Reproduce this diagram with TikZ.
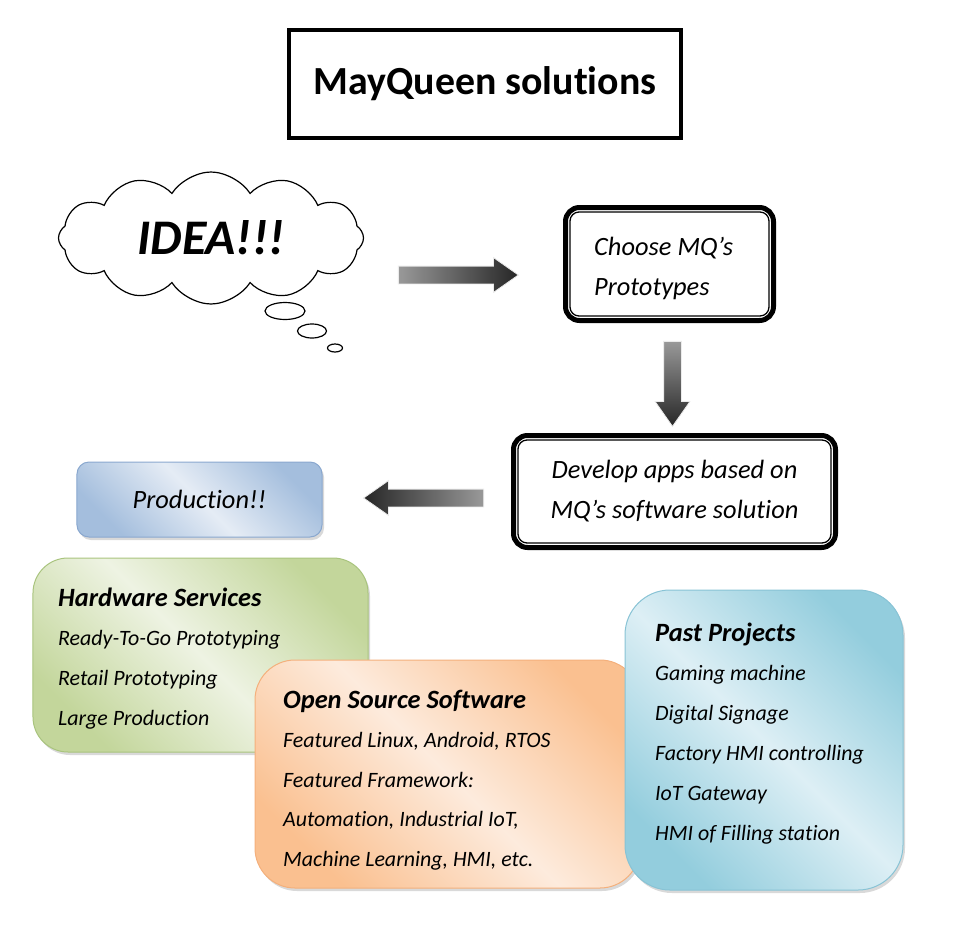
\documentclass[tikz,border=0pt]{standalone}
\usepackage{fontspec}
\setmainfont{Carlito}[Ligatures=NoCommon]
\usetikzlibrary{
  shapes.symbols,
  shapes.arrows,
  shapes.geometric,
  shadows
}
\definecolor{hwfill}{HTML}{C3D69B}
\definecolor{hwlight}{HTML}{EEF3E3}
\definecolor{hwline}{HTML}{A9C47E}
\definecolor{osfill}{HTML}{FAC090}
\definecolor{oslight}{HTML}{FDEBDD}
\definecolor{osline}{HTML}{F4B07C}
\definecolor{ppfill}{HTML}{93CDDD}
\definecolor{pplight}{HTML}{DDEFF5}
\definecolor{ppline}{HTML}{88C3D5}
\definecolor{prfill}{HTML}{A4BEDD}
\definecolor{prlight}{HTML}{E5ECF5}
\definecolor{prline}{HTML}{8AA8CF}

\begin{document}
\begin{tikzpicture}[
      x=1bp,y=-1bp,
      titlebox/.style={
         rectangle,
         draw=black,
         line width=3.5bp,
         minimum width=392bp,
         minimum height=108bp,
         font=\bfseries\fontsize{40}{44}\selectfont
      },
      thought/.style={
         cloud,
         cloud puffs=12,
         cloud puff arc=115,
         cloud ignores aspect,
         draw=black,
         line width=1.2bp,
         minimum width=305bp,
         minimum height=132bp,
         font=\bfseries\itshape\fontsize{50}{54}\selectfont
      },
      bubble/.style={
         ellipse,
         draw=black,
         line width=1.2bp,
         inner sep=0pt
      },
      stepframe/.style={
         rectangle,
         rounded corners=14bp,
         draw=black,
         line width=5bp,
         inner sep=0pt,
         font=\itshape\fontsize{26.5}{40}\selectfont
      },
      innerframe/.style={
         draw=black,
         line width=1.3bp,
         rounded corners=9bp
      },
      blockarrow/.style={
         single arrow,
         inner xsep=0pt,
         inner ysep=8.5bp,
         single arrow head extend=8.5bp,
         single arrow tip angle=70,
         minimum height=120bp,
         draw=black!8,
         line width=0.8bp
      },
      card/.style={
         rectangle,
         draw=#1line,
         line width=1bp,
         top color=#1fill,
         bottom color=#1fill,
         middle color=#1light,
         shading angle=-45,
         drop shadow={opacity=0.3,shadow xshift=2bp,shadow yshift=-3bp}
      },
      head/.style={
         anchor=base west,
         inner sep=0pt,
         font=\bfseries\itshape\fontsize{26.5}{30}\selectfont
      },
      item/.style={
         anchor=base west,
         inner sep=0pt,
         font=\itshape\fontsize{22}{26}\selectfont
      }
    ]
    \useasboundingbox (0,0) rectangle (966,927);

    \node (title) [titlebox] at (485,84) {MayQueen solutions};

    \node (idea) [thought] at (211,238) {IDEA!!!};
    \node (b1) [bubble, minimum width=40bp, minimum height=17bp] at (285,311) {};
    \node (b2) [bubble, minimum width=29bp, minimum height=14bp] at (312,331) {};
    \node (b3) [bubble, minimum width=15bp, minimum height=8bp] at (335,348) {};

    \node (choose) [stepframe, minimum width=208bp, minimum height=113bp]
       at (669.5,264) {};
    \draw[innerframe] ([shift={(7bp,-7bp)}]choose.north west)
       rectangle ([shift={(-7bp,7bp)}]choose.south east);
    \node (choose1) [item, font=\itshape\fontsize{26.5}{30}\selectfont]
       at (594,255) {Choose MQ's};
    \node (choose2) [item, font=\itshape\fontsize{26.5}{30}\selectfont]
       at (594,295) {Prototypes};

    \node (develop) [stepframe, minimum width=322bp, minimum height=112bp,
       align=center] at (674.5,491.5) {Develop apps based on\\MQ's software solution};
    \draw[innerframe] ([shift={(7bp,-7bp)}]develop.north west)
       rectangle ([shift={(-7bp,7bp)}]develop.south east);

    \node (a1) [blockarrow, left color=black!40, right color=black!85]
       at (452,275) {};
    \node (a2) [blockarrow, minimum height=85bp, rotate=-90,
       top color=black!40, bottom color=black!85] at (672.5,377.5) {};
    \node (a3) [blockarrow, rotate=180, left color=black!85,
       right color=black!40] at (430,498) {};

    \node (prod) [card=pr, rounded corners=12bp, minimum width=245bp,
       minimum height=75bp, font=\itshape\fontsize{26.5}{30}\selectfont]
       at (199.5,499.5) {Production!!};

    \node (hw) [card=hw, rounded corners=35bp, minimum width=335bp,
       minimum height=194bp] at (200.5,655) {};
    \node (hwh) [head] at (58,606) {Hardware Services};
    \foreach \txt [count=\i] in {Ready-To-Go Prototyping, Retail Prototyping,
       Large Production}
       \node (hw\i) [item] at (58,605+40*\i) {\txt};

    \node (os) [card=os, rounded corners=40bp, minimum width=385bp,
       minimum height=228bp] at (447.5,774) {};
    \node (osh) [head] at (283,708) {Open Source Software};
    \foreach \txt [count=\i] in {{Featured Linux, Android, RTOS},
       {Featured Framework:}, {Automation, Industrial IoT,},
       {Machine Learning, HMI, etc.}}
       \node (os\i) [item] at (283,708+39.5*\i) {\txt};

    \node (pp) [card=pp, rounded corners=45bp, minimum width=278bp,
       minimum height=300bp] at (764,740) {};
    \node (pph) [head] at (655,641) {Past Projects};
    \foreach \txt [count=\i] in {Gaming machine, Digital Signage,
       Factory HMI controlling, IoT Gateway, HMI of Filling station}
       \node (pp\i) [item] at (655,640+40*\i) {\txt};
\end{tikzpicture}
\end{document}
